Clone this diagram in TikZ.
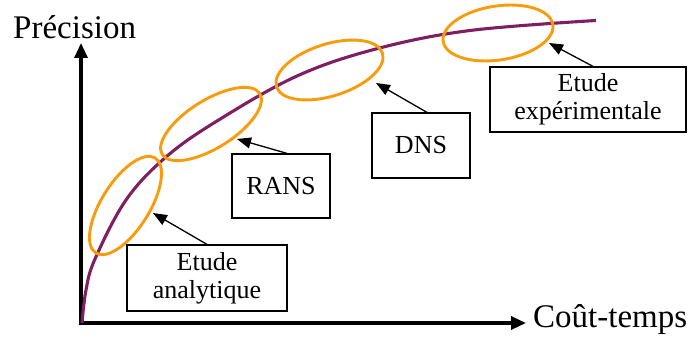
\documentclass[tikz,border=0pt]{standalone}
\usepackage{fontspec}
\setmainfont{Liberation Serif}
\usetikzlibrary{arrows.meta}
\definecolor{curvecol}{HTML}{7E1F62}
\definecolor{ellcol}{HTML}{F89B0C}
\tikzset{
  box/.style={draw=black, line width=1.2pt, inner sep=0pt, align=center,
    font=\fontsize{26}{30}\selectfont},
  lbl/.style={inner sep=0pt, font=\fontsize{33}{38}\selectfont},
  axis/.style={line width=3.2pt, -{Triangle[length=15pt,width=13pt]}},
  pointer/.style={line width=1.3pt, -{Triangle[length=14pt,width=11pt]}},
  ell/.style={draw=ellcol, line width=2.9pt},
}
\begin{document}
\begin{tikzpicture}[x=1pt,y=-1pt]
\useasboundingbox (0,0) rectangle (690,339);
% axes
\coordinate (O) at (81,323);
\coordinate (Ytip) at (81,43);
\coordinate (Xtip) at (526,323);
\draw[axis] ([yshift=1.6pt]O) -- (Ytip);
\draw[axis] ([xshift=-1.6pt]O) -- (Xtip);
\node[lbl, anchor=base west] (prec) at (13,39) {Précision};
\node[lbl, anchor=base west] (cout) at (533,327) {Coût-temps};
% curve
\draw[curvecol, line width=3.1pt] plot[smooth, tension=0.6] coordinates
  {(82,323) (86,290) (95,259) (126,200) (166,157) (217,121) (297,76) (377,48.7) (470,30.5) (596,20.5)};
% ellipses
\draw[ell, rotate around={58:(125.5,205.5)}] (125.5,205.5) ellipse [x radius=56, y radius=24];
\draw[ell, rotate around={32:(211,124)}] (211,124) ellipse [x radius=57.5, y radius=24];
\draw[ell, rotate around={17.6:(329.5,70)}] (329.5,70) ellipse [x radius=55.6, y radius=26];
\draw[ell, rotate around={8.7:(498,33)}] (498,33) ellipse [x radius=55.5, y radius=27];
% boxes
\node[box, minimum width=160pt, minimum height=66pt] (ana) at (207,278) {Etude\\[-2pt]analytique};
\node[box, minimum width=98pt, minimum height=64pt] (rans) at (281,186) {RANS};
\node[box, minimum width=98pt, minimum height=65pt] (dns) at (421,145.5) {DNS};
\node[box, minimum width=196pt, minimum height=65pt] (exp) at (588,99.5) {Etude\\[-2pt]expérimentale};
% pointer tips
\coordinate (t1) at (153,213);
\coordinate (t2) at (237,139);
\coordinate (t3) at (376,83);
\coordinate (t4) at (549,43);
\draw[pointer] (ana.north) -- (t1);
\draw[pointer] ([xshift=6pt]rans.north) -- (t2);
\draw[pointer] ([xshift=6pt]dns.north) -- (t3);
\draw[pointer] ([xshift=5pt]exp.north) -- (t4);
\end{tikzpicture}
\end{document}
